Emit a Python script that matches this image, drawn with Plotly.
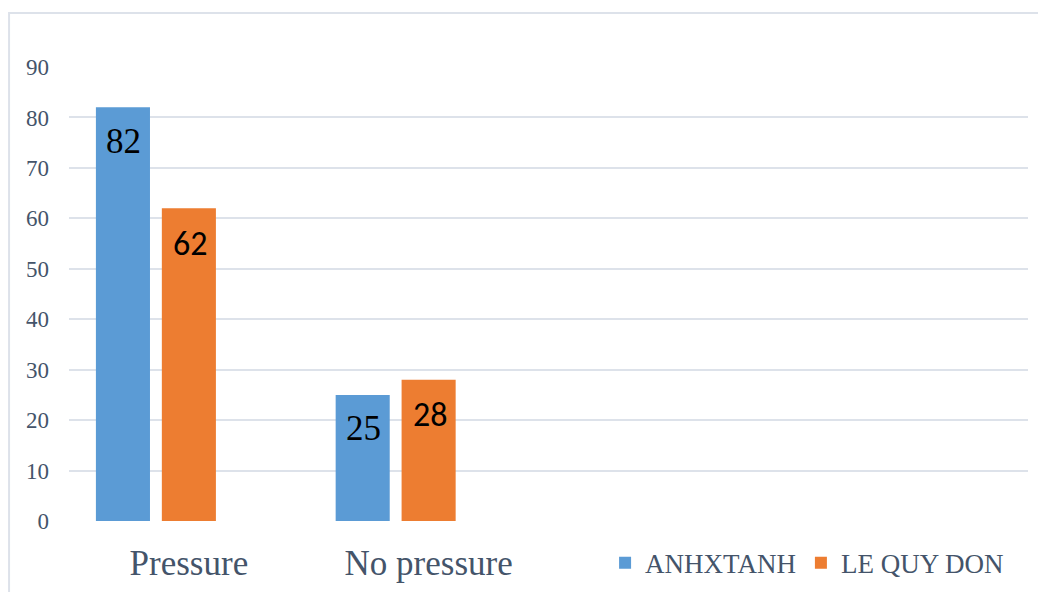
import plotly.graph_objects as go

categories = ["Pressure", "No pressure", " ", "  "]
anhxtanh = [82, 25, None, None]
le_quy_don = [62, 28, None, None]
empty_series = [None, None, None, None]
y_ticks = [0, 10, 20, 30, 40, 50, 60, 70, 80, 90]

SERIF = "Liberation Serif, Times New Roman, serif"
SANS = "Carlito, Noto Sans, Liberation Sans, sans-serif"
AXIS_COLOR = "#44546A"

fig = go.Figure()
fig.add_trace(go.Bar(
    name="ANHXTANH", x=categories, y=anhxtanh,
    marker=dict(color="#5B9BD5", line=dict(width=0)),
))
fig.add_trace(go.Bar(
    name="LE QUY DON", x=categories, y=le_quy_don,
    marker=dict(color="#ED7D31", line=dict(width=0)),
))
fig.add_trace(go.Bar(
    name="", x=categories, y=empty_series, showlegend=False,
    marker=dict(color="#A5A5A5"),
))

# data labels inside the top of each bar (slot offset of grouped bars = 66 px)
annotations = []
for cat, v in zip(categories, anhxtanh):
    if v is not None:
        annotations.append(dict(x=cat, y=v, xref="x", yref="y", text=str(v), showarrow=False,
                                xshift=-65, yshift=-34, yanchor="middle",
                                font=dict(family=SERIF, size=35, color="black")))
for cat, v in zip(categories, le_quy_don):
    if v is not None:
        annotations.append(dict(x=cat, y=v, xref="x", yref="y", text=str(v), showarrow=False,
                                xshift=1, yshift=-35, yanchor="middle",
                                font=dict(family=SANS, size=34, color="black")))

fig.update_layout(
    width=1038, height=592,
    margin=dict(l=69, r=10, t=67, b=71, autoexpand=False),
    paper_bgcolor="white", plot_bgcolor="white",
    barmode="group", bargap=0.175, bargroupgap=0.18,
    showlegend=True,
    legend=dict(
        orientation="h", x=0.559, y=-0.093, xanchor="left", yanchor="middle",
        font=dict(family=SERIF, size=27, color=AXIS_COLOR),
        itemwidth=30, tracegroupgap=0, traceorder="normal",
        bgcolor="rgba(0,0,0,0)",
    ),
    xaxis=dict(
        type="category", categoryorder="array", categoryarray=categories,
        showgrid=False, zeroline=False, showline=False, ticks="",
        tickfont=dict(family=SERIF, size=35, color=AXIS_COLOR),
        ticklabelstandoff=18, automargin=False,
    ),
    yaxis=dict(
        range=[0, 90], tickvals=y_ticks, showgrid=True, gridcolor="#DDE2EA", gridwidth=2,
        zeroline=False, showline=False, ticks="",
        tickfont=dict(family=SERIF, size=23, color=AXIS_COLOR),
        ticklabelstandoff=19, automargin=False,
    ),
    annotations=annotations,
    shapes=[dict(
        type="rect", xref="paper", yref="paper",
        x0=-0.0625, x1=1.03, y0=-0.3, y1=1.119,
        line=dict(color="#DDE2EA", width=2), fillcolor="rgba(0,0,0,0)", layer="below",
    )],
)

fig.write_html("out.html")
